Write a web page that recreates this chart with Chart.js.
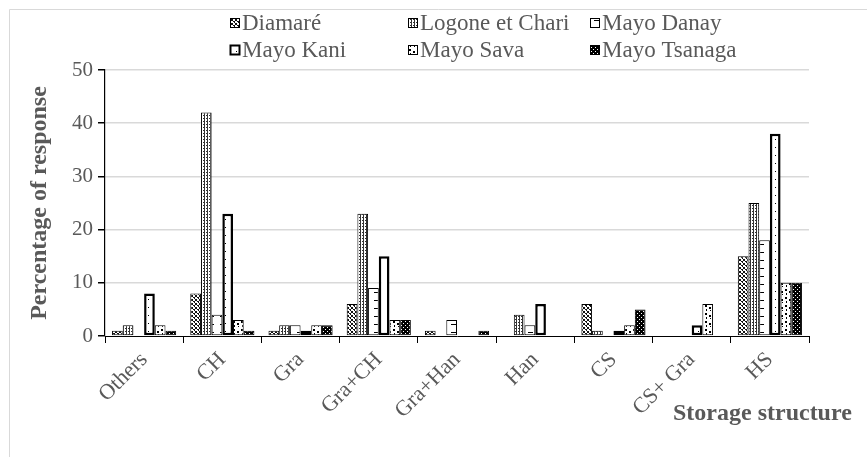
<!DOCTYPE html>
<html>
<head>
<meta charset="utf-8">
<script src="https://cdn.jsdelivr.net/npm/chart.js@4/dist/chart.umd.min.js"></script>
<style>
  body { margin: 0; background: #fff; }
  #wrap { width: 867px; height: 457px; position: relative; }
</style>
</head>
<body>
<div id="wrap"><canvas id="storageChart"></canvas></div>
<script>
// storage structures on the x axis
const categories = ['Others', 'CH', 'Gra', 'Gra+CH', 'Gra+Han', 'Han', 'CS', 'CS+ Gra', 'HS'];

// percentage of response per department
const diamare      = [1, 8, 1, 6, 1, 0, 6, 0, 15];
const logoneChari  = [2, 42, 2, 23, 0, 4, 1, 0, 25];
const mayoDanay    = [0, 4, 2, 9, 3, 2, 0, 0, 18];
const mayoKani     = [8, 23, 1, 15, 0, 6, 1, 2, 38];
const mayoSava     = [2, 3, 2, 3, 0, 0, 2, 6, 10];
const mayoTsanaga  = [1, 1, 2, 3, 1, 0, 5, 0, 10];

const yTicks = [0, 10, 20, 30, 40, 50];

const serif = "'Liberation Serif', 'Times New Roman', serif";
const grey = '#595959';

// little tiles used as fills, like the hatched bars of the original
function tile(w, h, bg, fg, pixels) {
    const c = document.createElement('canvas');
    c.width = w; c.height = h;
    const g = c.getContext('2d');
    g.fillStyle = bg;
    g.fillRect(0, 0, w, h);
    g.fillStyle = fg;
    pixels.forEach(p => g.fillRect(p[0], p[1], p[2] || 1, p[3] || 1));
    return g.createPattern(c, 'repeat');
}

const patDiamare = tile(4, 4, '#fff', '#111',
    [[0,0],[1,1],[2,2],[3,3],[3,0],[2,1],[0,3]]);
const patLogone = tile(3, 3, '#fff', '#333', [[0,0],[0,1],[0,2],[2,1]]);
const patDanay = tile(11, 8, '#fff', '#000', [[0,4,5,1]]);
const patKani = tile(11, 8, '#fff', '#000', [[5,3]]);
const patSava = tile(8, 8, '#fff', '#000', [[1,1,2,2],[5,3,2,2],[2,5,1,2],[6,6,1,1]]);
const patTsanaga = tile(4, 4, '#000', '#fff', [[1,1],[3,3]]);

const ds = (label, data, fill, bw) => ({
    label: label,
    data: data,
    backgroundColor: fill,
    borderColor: '#000',
    borderWidth: bw,
    borderSkipped: false,
    categoryPercentage: 0.82,
    barPercentage: 1.0
});

// hand drawn legend in two rows of three, plus outer frame and x title
const extras = {
    id: 'extras',
    beforeDraw(chart) {
        const ctx = chart.ctx;
        ctx.save();
        ctx.fillStyle = '#fff';
        ctx.fillRect(0, 0, chart.width, chart.height);
        ctx.strokeStyle = '#d9d9d9';
        ctx.lineWidth = 1;
        ctx.beginPath();
        ctx.moveTo(9.5, chart.height + 2);
        ctx.lineTo(9.5, 9.5);
        ctx.lineTo(chart.width + 2, 9.5);
        ctx.stroke();
        ctx.restore();
    },
    afterDraw(chart) {
        const ctx = chart.ctx;
        const colX = [230, 408, 590];
        const rowY = [23, 50];
        ctx.save();
        ctx.font = '23px ' + serif;
        ctx.textBaseline = 'middle';
        chart.data.datasets.forEach((d, i) => {
            const x = colX[i % 3];
            const y = rowY[Math.floor(i / 3)];
            ctx.fillStyle = d.backgroundColor;
            ctx.fillRect(x, y - 5, 10, 10);
            ctx.strokeStyle = '#000';
            ctx.lineWidth = d.borderWidth > 1 ? 2 : 1;
            ctx.strokeRect(x + 0.5, y - 4.5, 9, 9);
            ctx.fillStyle = grey;
            ctx.fillText(d.label, x + 12, y + 1);
        });
        ctx.font = 'bold 24px ' + serif;
        ctx.textAlign = 'left';
        ctx.textBaseline = 'middle';
        ctx.fillText('Storage structure', 673, 414);
        ctx.restore();
    }
};

new Chart(document.getElementById('storageChart'), {
    type: 'bar',
    data: {
        labels: categories,
        datasets: [
            ds('Diamaré', diamare, patDiamare, 1),
            ds('Logone et Chari', logoneChari, patLogone, 1),
            ds('Mayo Danay', mayoDanay, patDanay, 1),
            ds('Mayo Kani', mayoKani, patKani, 2.5),
            ds('Mayo Sava', mayoSava, patSava, 1),
            ds('Mayo Tsanaga', mayoTsanaga, patTsanaga, 1)
        ]
    },
    options: {
        responsive: true,
        maintainAspectRatio: false,
        animation: false,
        layout: { padding: { left: 0, top: 70, right: 58, bottom: 0 } },
        plugins: {
            legend: { display: false },
            tooltip: { enabled: false }
        },
        scales: {
            x: {
                offset: true,
                grid: {
                    display: true,
                    offset: true,
                    drawOnChartArea: false,
                    tickLength: 7,
                    tickColor: '#000'
                },
                border: { color: '#000', width: 1 },
                ticks: {
                    minRotation: 45,
                    maxRotation: 45,
                    padding: 4,
                    color: grey,
                    font: { family: serif, size: 22 }
                },
                afterFit(scale) { scale.height = 121; }
            },
            y: {
                min: 0,
                max: 50,
                afterBuildTicks(scale) {
                    scale.ticks = yTicks.map(v => ({ value: v }));
                },
                grid: {
                    color: c => c.tick && c.tick.value === 0 ? 'rgba(0,0,0,0)' : '#d9d9d9',
                    lineWidth: 1.5,
                    tickLength: 7,
                    tickColor: '#000'
                },
                border: { color: '#000', width: 1.2 },
                ticks: {
                    padding: 5,
                    color: grey,
                    font: { family: serif, size: 21 }
                },
                title: {
                    display: true,
                    text: 'Percentage of response',
                    color: grey,
                    padding: { top: 25, bottom: 0 },
                    font: { family: serif, size: 24, weight: 'bold' }
                },
                afterFit(scale) { scale.width = 105; }
            }
        }
    },
    plugins: [extras]
});
</script>
</body>
</html>
